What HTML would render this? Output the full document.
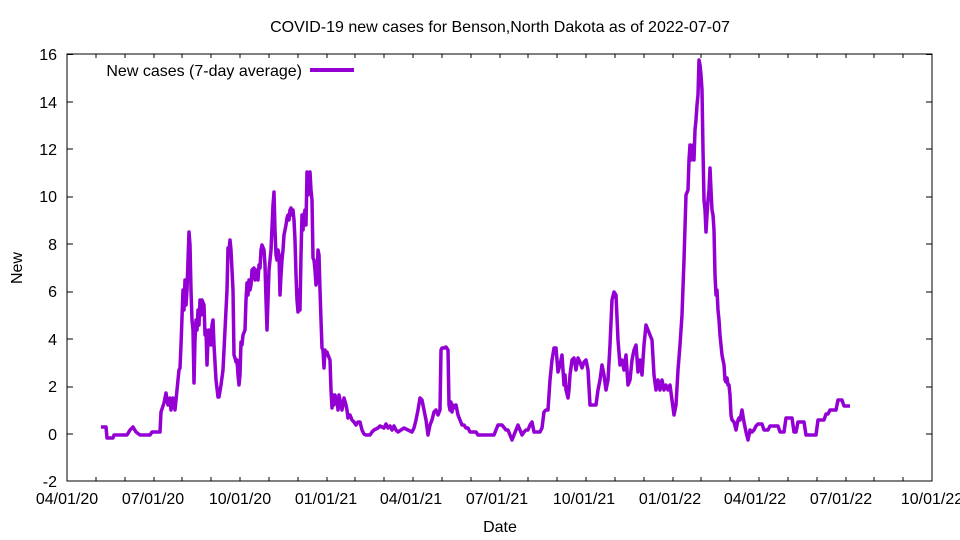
<!DOCTYPE html>
<html><head><style>body{margin:0;background:#fff}svg{display:block}text{font-family:"Liberation Sans",sans-serif;font-size:16px;fill:#000}</style></head><body>
<svg width="960" height="540" viewBox="0 0 960 540">
<rect x="67" y="54" width="865" height="427" fill="none" stroke="#000" stroke-width="1"/>
<g id="yt" stroke="#000">
</g>
<text x="500" y="32" text-anchor="middle">COVID-19 new cases for Benson,North Dakota as of 2022-07-07</text>
<text x="500" y="532" text-anchor="middle">Date</text>
<text x="22" y="268" text-anchor="middle" transform="rotate(-90 22 268)">New</text>
<g text-anchor="end">
<text x="57" y="60">16</text><text x="57" y="108">14</text><text x="57" y="155">12</text><text x="57" y="202">10</text><text x="57" y="250">8</text><text x="57" y="297">6</text><text x="57" y="345">4</text><text x="57" y="392">2</text><text x="57" y="440">0</text><text x="57" y="487">-2</text>
</g>
<g text-anchor="middle">
<text x="67" y="504">04/01/20</text><text x="153" y="504">07/01/20</text><text x="240" y="504">10/01/20</text><text x="326" y="504">01/01/21</text><text x="411" y="504">04/01/21</text><text x="497" y="504">07/01/21</text><text x="584" y="504">10/01/21</text><text x="670" y="504">01/01/22</text><text x="755" y="504">04/01/22</text><text x="841" y="504">07/01/22</text><text x="932" y="504">10/01/22</text>
</g>
<path stroke="#000" stroke-width="1" d="M67 54.5h6M67 102h6M67 149h6M67 197h6M67 244h6M67 292h6M67 339h6M67 387h6M67 434h6M926 54.5h6M926 102h6M926 149h6M926 197h6M926 244h6M926 292h6M926 339h6M926 387h6M926 434h6
M96 481v-4M125 481v-4M154 481v-4M182 481v-4M211 481v-4M240 481v-4M269 481v-4M298 481v-4M327 481v-4M355 481v-4M384 481v-4M413 481v-4M442 481v-4M471 481v-4M500 481v-4M528 481v-4M557 481v-4M586 481v-4M615 481v-4M644 481v-4M673 481v-4M701 481v-4M730 481v-4M759 481v-4M788 481v-4M817 481v-4M846 481v-4M874 481v-4M903 481v-4
M96 54v4M125 54v4M154 54v4M182 54v4M211 54v4M240 54v4M269 54v4M298 54v4M327 54v4M355 54v4M384 54v4M413 54v4M442 54v4M471 54v4M500 54v4M528 54v4M557 54v4M586 54v4M615 54v4M644 54v4M673 54v4M701 54v4M730 54v4M759 54v4M788 54v4M817 54v4M846 54v4M874 54v4M903 54v4"/>
<text x="302" y="76" text-anchor="end">New cases (7-day average)</text>
<line x1="310" y1="70" x2="354" y2="70" stroke="#9400d3" stroke-width="4"/>
<polyline fill="none" stroke="#9400d3" stroke-width="3.5" stroke-linejoin="round" points="101,427 106,427 107,438 113,438 114,435 127,435 130,430 133,427 136,432 140,435 150,435 152,432 160,432 161,412 164,403 166,393 168,405 170,398 171,410 173,398 175,410 177,390 179,370 180,368 181,345 183,290 184,310 185,280 186,305 187,290 188,260 189,232 190,245 191,290 192,320 193,330 194,383 195,340 196,320 197,330 198,310 199,325 200,300 201,315 202,300 204,305 205,335 206,330 207,365 208,340 209,330 210,335 211,345 212,325 213,320 214,345 216,380 218,397 219,397 221,385 223,370 225,330 227,290 228,248 229,250 230,240 231,250 233,290 234,355 235,358 236,362 237,360 238,375 239,385 240,375 241,342 242,345 243,335 245,330 246,300 247,283 248,295 249,280 250,290 251,285 252,270 254,268 255,280 256,273 257,270 258,280 259,265 260,268 261,250 262,245 264,250 265,265 266,300 267,330 268,300 269,270 270,260 271,250 273,205 274,192 275,230 276,255 277,260 278,250 279,255 280,295 281,275 282,260 283,250 284,235 285,230 286,225 287,218 288,215 289,220 290,210 291,208 292,215 293,210 294,220 295,240 296,275 297,300 298,312 299,290 300,310 301,255 302,215 303,230 304,215 305,210 306,225 307,172 308,195 309,178 310,172 311,190 312,200 313,258 314,260 315,270 316,285 317,280 318,250 319,255 320,290 321,320 322,348 323,350 324,368 325,350 326,355 327,352 328,355 330,360 331,390 332,408 333,395 334,405 335,395 336,400 337,398 338,410 339,395 340,400 342,410 344,398 346,405 347,410 348,418 350,415 352,420 354,422 356,425 358,422 360,422 362,430 364,434 366,435 370,435 372,432 374,430 378,428 380,426 384,428 386,424 388,428 390,426 392,430 394,426 396,430 398,432 404,428 408,430 412,432 414,428 416,420 418,410 420,398 422,400 424,410 426,420 428,435 430,425 432,420 434,412 436,410 438,415 440,410 441,350 442,348 444,348 446,347 448,350 449,405 450,410 451,402 452,412 453,405 454,408 456,405 458,415 460,420 462,425 464,425 466,428 468,428 470,432 476,432 478,435 494,435 496,430 498,425 502,425 506,430 508,430 510,435 512,440 514,435 516,430 518,425 520,430 522,435 524,432 526,430 528,430 530,425 532,422 534,432 540,432 542,428 544,412 546,410 548,410 550,380 552,360 554,348 556,348 558,372 560,365 561,360 562,355 564,385 565,375 566,390 568,398 569,390 570,375 572,360 574,358 576,370 578,358 580,362 582,368 584,362 586,360 588,370 590,405 596,405 598,390 600,380 602,365 604,375 606,390 608,380 610,345 612,300 614,292 616,295 618,340 620,365 622,360 624,370 626,355 628,385 630,380 632,360 634,350 636,345 638,372 640,360 642,375 644,345 646,325 648,330 650,335 652,340 654,375 656,390 658,380 660,390 662,380 664,390 666,385 668,390 670,385 672,400 674,415 676,405 678,370 680,345 682,315 684,260 686,195 688,190 689,160 690,145 691,160 693,145 694,160 695,130 696,120 697,105 698,95 699,60 700,65 701,75 702,90 703,150 704,200 705,210 706,232 707,215 708,200 709,190 710,168 711,190 712,210 713,215 714,230 715,275 716,295 717,290 718,310 719,320 720,335 721,345 722,355 724,365 725,380 726,382 727,378 728,385 729,385 730,395 731,415 732,420 734,422 736,430 738,420 739,418 740,420 742,410 744,422 746,432 748,440 750,430 752,432 754,430 756,426 758,424 762,424 764,430 768,430 770,426 778,426 780,432 784,432 786,418 792,418 794,432 796,432 798,422 802,422 804,422 806,435 816,435 818,420 824,420 826,414 828,414 830,410 836,410 838,400 842,400 844,406 850,406"/>
</svg>
</body></html>
